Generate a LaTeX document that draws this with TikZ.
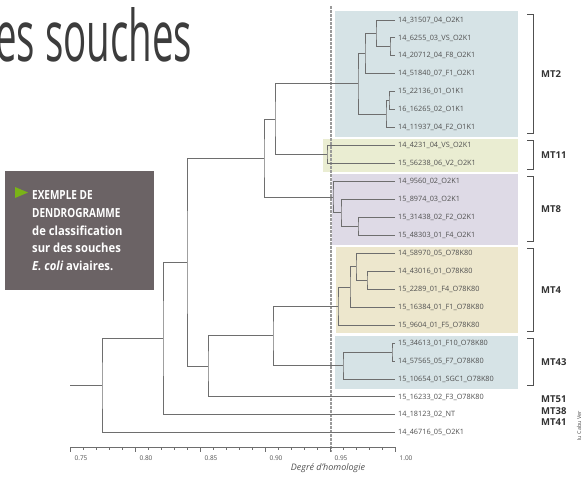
\documentclass[tikz,border=0pt]{standalone}
\usepackage{fontspec}
\setmainfont{Open Sans}
\newfontfamily\leaffont{Open Sans}
\newfontfamily\titlefont[FakeStretch=0.62]{Open Sans}
\newfontfamily\capsfont[FakeStretch=0.8]{Open Sans}
\newfontfamily\boxfont[FakeStretch=0.9]{Open Sans}
\newfontfamily\grpfont{Open Sans}
\usetikzlibrary{calc}
\definecolor{treegray}{HTML}{6E6E6E}
\definecolor{labelgray}{HTML}{505050}
\definecolor{darktext}{HTML}{333333}
\definecolor{titlegray}{HTML}{3C3C3C}
\definecolor{boxgray}{HTML}{6B6365}
\definecolor{arrowgreen}{HTML}{7AB317}
\definecolor{bandblue}{HTML}{D6E3E6}
\definecolor{bandyellow}{HTML}{EAEDD2}
\definecolor{bandlilac}{HTML}{DEDAE6}
\definecolor{bandbeige}{HTML}{EDE7CD}
\definecolor{dashgray}{HTML}{9A9A9A}
\tikzset{
  tree/.style={draw=treegray, line width=1pt},
  leaflabel/.style={anchor=west, inner sep=0pt, font=\leaffont\fontsize{7.3}{8}\selectfont, text=labelgray},
  grp/.style={anchor=west, inner sep=0pt, font=\grpfont\bfseries\fontsize{9.5}{10}\selectfont, text=darktext},
  brk/.style={draw=labelgray, line width=1pt},
  vdashline/.style={draw=dashgray, line width=2pt, dash pattern=on 2.5pt off 1.5pt},
  axisline/.style={draw=treegray, line width=0.9pt},
  ticklabel/.style={inner sep=0pt, font=\leaffont\fontsize{6.5}{7}\selectfont, text=labelgray},
  boxline/.style={anchor=base west, inner sep=0pt, text=white, font=\boxfont\bfseries\fontsize{12.5}{14}\selectfont},
  boxcaps/.style={anchor=base west, inner sep=0pt, text=white, font=\capsfont\bfseries\fontsize{12.5}{14}\selectfont},
}
\newcommand\dendjoin[4]{%
  \coordinate (#1m) at ($(#3)!.5!(#4)$);
  \coordinate (#1) at (#1m -| #2,0);
  \draw[tree] (#3) -| (#1) |- (#4);
}
\begin{document}
\begin{tikzpicture}[x=1pt, y=-1pt]
\useasboundingbox (0,0) rectangle (587,477);
\clip (0,0) rectangle (587,477);
\fill[white] (0,0) rectangle (587,477);

% title
\node[anchor=base west, inner sep=0pt, text=titlegray] (title) at (-5,61)
  {\resizebox{197pt}{54pt}{\titlefont es souches}};

% info box
\node[anchor=north west, fill=boxgray, minimum width=149pt, minimum height=119pt, inner sep=0pt] (infobox) at (5,171) {};
\fill[arrowgreen] (15,187) -- (28,192.5) -- (15,198) -- cycle;
\node[boxcaps] (info1) at (32,199) {EXEMPLE DE};
\node[boxcaps] (info2) at (32,217) {DENDROGRAMME};
\node[boxline] (info3) at (32,235) {de classification};
\node[boxline] (info4) at (32,252.5) {sur des souches};
\node[boxline] (info5) at (32,270) {\itshape E.\ coli\upshape{} aviaires.};

% coloured bands
\fill[bandblue]   (335,11)  rectangle (518,137);
\fill[bandyellow] (323,139) rectangle (518,172);
\fill[bandlilac]  (332,174) rectangle (518,245);
\fill[bandbeige]  (336,247) rectangle (518,333);
\fill[bandblue]   (335,336) rectangle (518,389);

% dashed threshold
\coordinate (dtop) at (331,6);
\coordinate (dbot) at (331,452);
\draw[vdashline] (dtop) -- (dbot);

% leaves
\foreach \i/\t in {
  1/14\_31507\_04\_O2K1,
  2/14\_6255\_03\_VS\_O2K1,
  3/14\_20712\_04\_F8\_O2K1,
  4/14\_51840\_07\_F1\_O2K1,
  5/15\_22136\_01\_O1K1,
  6/16\_16265\_02\_O1K1,
  7/14\_11937\_04\_F2\_O1K1,
  8/14\_4231\_04\_VS\_O2K1,
  9/15\_56238\_06\_V2\_O2K1,
  10/14\_9560\_02\_O2K1,
  11/15\_8974\_03\_O2K1,
  12/15\_31438\_02\_F2\_O2K1,
  13/15\_48303\_01\_F4\_O2K1,
  14/14\_58970\_05\_O78K80,
  15/14\_43016\_01\_O78K80,
  16/15\_2289\_01\_F4\_O78K80,
  17/15\_16384\_01\_F1\_O78K80,
  18/15\_9604\_01\_F5\_O78K80,
  19/15\_34613\_01\_F10\_O78K80,
  20/14\_57565\_05\_F7\_O78K80,
  21/15\_10654\_01\_SGC1\_O78K80,
  22/15\_16233\_02\_F3\_O78K80,
  23/14\_18123\_02\_NT,
  24/14\_46716\_05\_O2K1}{
  \coordinate (L\i) at (395,{20+17.95*(\i-1)});
  \node[leaflabel] (T\i) at (398,{20+17.95*(\i-1)}) {\t};
}

% tree
\dendjoin{a}{390}{L2}{L3}
\dendjoin{b}{376}{L1}{a}
\dendjoin{c}{365}{b}{L4}
\dendjoin{d}{389}{L5}{L6}
\dendjoin{e}{386}{d}{L7}
\dendjoin{f}{358}{c}{e}
\dendjoin{g}{327}{L8}{L9}
\dendjoin{h}{275}{f}{g}
\dendjoin{i}{358}{L12}{L13}
\dendjoin{j}{341}{L11}{i}
\dendjoin{k}{333}{L10}{j}
\dendjoin{l}{264}{h}{k}
\dendjoin{m}{367}{L15}{L16}
\dendjoin{n}{356}{L14}{m}
\dendjoin{o}{350}{n}{L17}
\dendjoin{p}{338}{o}{L18}
\dendjoin{q}{392}{L19}{L20}
\dendjoin{r}{343}{q}{L21}
\dendjoin{s}{273}{p}{r}
\dendjoin{t}{208}{s}{L22}
\dendjoin{u}{187}{l}{t}
\dendjoin{v}{163}{u}{L23}
\dendjoin{w}{102}{v}{L24}
\coordinate (rootstart) at (w -| 70,0);
\draw[tree] (rootstart) -- (w);

% brackets and group labels
\draw[brk] (527,14) -- (533,14) -- (533,133) -- (527,133);
\draw[brk] (527,140) -- (533,140) -- (533,169) -- (527,169);
\draw[brk] (527,176) -- (533,176) -- (533,241) -- (527,241);
\draw[brk] (527,248) -- (533,248) -- (533,331) -- (527,331);
\draw[brk] (527,338) -- (533,338) -- (533,385) -- (527,385);
\node[grp] (MT2)  at (541,74)  {MT2};
\node[grp] (MT11) at (541,155) {MT11};
\node[grp] (MT8)  at (541,209) {MT8};
\node[grp] (MT4)  at (541,290) {MT4};
\node[grp] (MT43) at (541,362) {MT43};
\node[grp] (MT51) at (541,399) {MT51};
\node[grp] (MT38) at (541,411) {MT38};
\node[grp] (MT41) at (541,422) {MT41};

% axis
\coordinate (ax0) at (70,447);
\coordinate (ax1) at (395,447);
\draw[axisline] (ax0) -- (ax1);
\foreach \k in {0,...,25}{
  \pgfmathsetmacro\tl{ifthenelse(mod(\k,5)==0,5,3)}
  \draw[axisline] (70+13*\k,447) -- (70+13*\k,447+\tl);
}
\foreach \k/\v in {0/0.75,1/0.80,2/0.85,3/0.90,4/0.95,5/1.00}{
  \node[ticklabel] (tick\k) at (81+65*\k,458) {\v};
}
\node[inner sep=0pt, font=\itshape\fontsize{9}{10}\selectfont, text=labelgray] (axtitle) at (328,468) {Degré d'homologie};

% credit
\node[rotate=90, inner sep=0pt, font=\fontsize{5.5}{6}\selectfont, text=labelgray] (credit) at (579,426) {Iu Cabu Ver};
\end{tikzpicture}
\end{document}
